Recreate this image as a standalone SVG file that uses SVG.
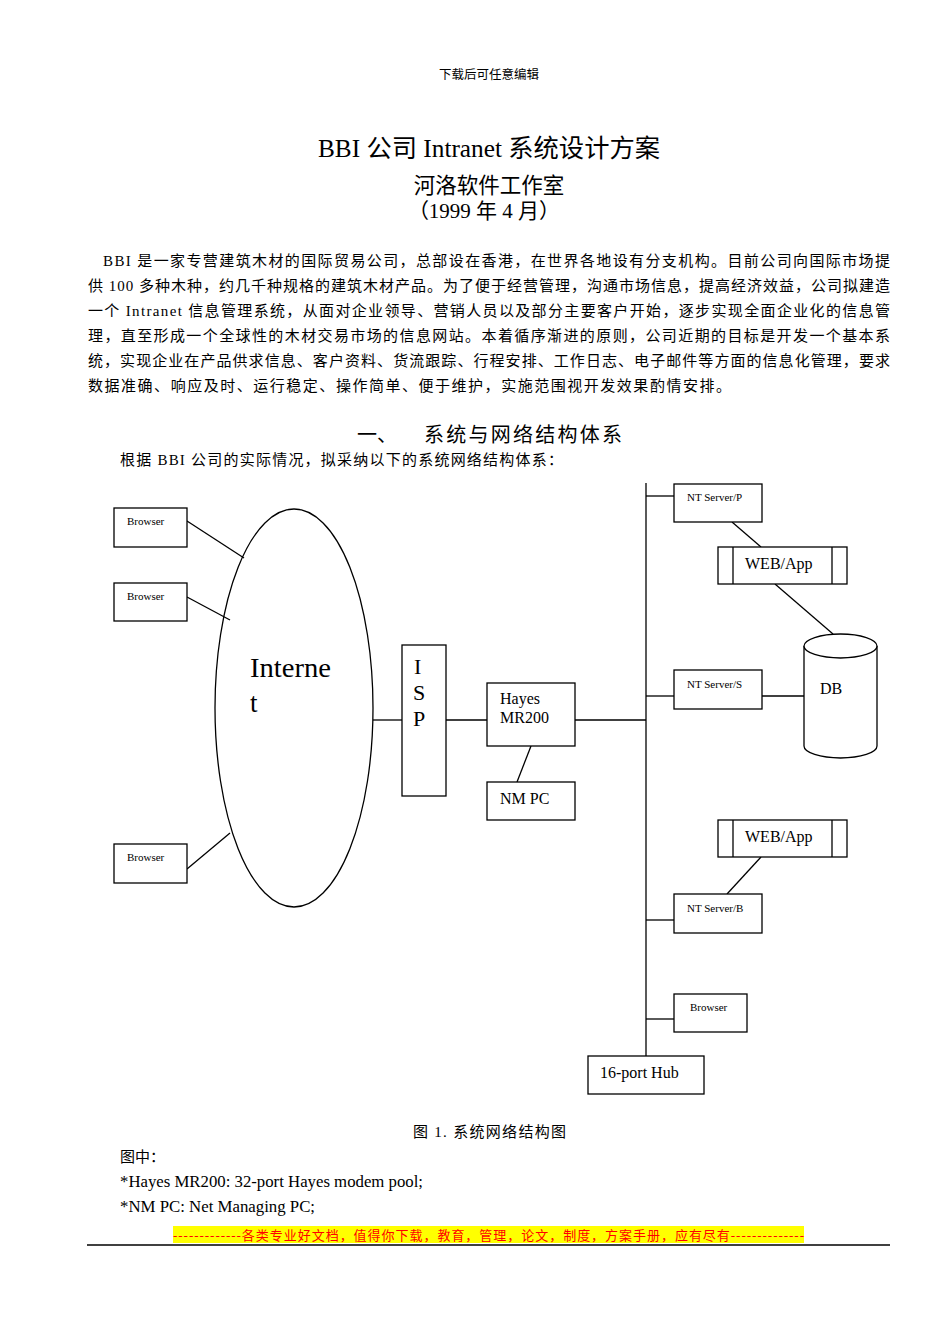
<svg xmlns="http://www.w3.org/2000/svg" width="950" height="1344" viewBox="0 0 950 1344">
<style>
text{font-family:"Liberation Serif","Noto Sans CJK SC",serif;fill:#000}
.box{fill:#fff;stroke:#000;stroke-width:1.3}
.ln{stroke:#000;stroke-width:1.3;fill:none}
.s{font-size:11px}
.m{font-size:16px}
.p{font-size:15px}
</style>
<rect width="950" height="1344" fill="#fff"/>
<text x="489" y="79" font-size="12.5" text-anchor="middle">下载后可任意编辑</text>
<text x="318" y="157" font-size="25" textLength="342" lengthAdjust="spacingAndGlyphs">BBI 公司 Intranet 系统设计方案</text>
<text x="489" y="193" font-size="21.5" text-anchor="middle">河洛软件工作室</text>
<text x="484" y="218" font-size="21" text-anchor="middle">（1999 年 4 月）</text>
<g class="p">
<text x="103" y="266" textLength="787" lengthAdjust="spacing">BBI 是一家专营建筑木材的国际贸易公司，总部设在香港，在世界各地设有分支机构。目前公司向国际市场提</text>
<text x="88" y="291" textLength="802" lengthAdjust="spacing">供 100 多种木种，约几千种规格的建筑木材产品。为了便于经营管理，沟通市场信息，提高经济效益，公司拟建造</text>
<text x="88" y="316" textLength="802" lengthAdjust="spacing">一个 Intranet 信息管理系统，从面对企业领导、营销人员以及部分主要客户开始，逐步实现全面企业化的信息管</text>
<text x="88" y="341" textLength="802" lengthAdjust="spacing">理，直至形成一个全球性的木材交易市场的信息网站。本着循序渐进的原则，公司近期的目标是开发一个基本系</text>
<text x="88" y="366" textLength="802" lengthAdjust="spacing">统，实现企业在产品供求信息、客户资料、货流跟踪、行程安排、工作日志、电子邮件等方面的信息化管理，要求</text>
<text x="88" y="391" textLength="643" lengthAdjust="spacing">数据准确、响应及时、运行稳定、操作简单、便于维护，实施范围视开发效果酌情安排。</text>
</g>
<text x="357" y="442" font-size="20">一、</text>
<text x="424" y="442" font-size="20" textLength="198" lengthAdjust="spacing">系统与网络结构体系</text>
<text x="120" y="465" class="p" textLength="443" lengthAdjust="spacing">根据 BBI 公司的实际情况，拟采纳以下的系统网络结构体系：</text>

<g id="connectors">
<line class="ln" x1="187" y1="521" x2="244" y2="558"/>
<line class="ln" x1="187" y1="597" x2="230" y2="620"/>
<line class="ln" x1="187" y1="869" x2="230" y2="833"/>
<line class="ln" x1="373" y1="720" x2="402" y2="720"/>
<line class="ln" x1="446" y1="720" x2="487" y2="720"/>
<line class="ln" x1="531" y1="746" x2="517" y2="782"/>
<line class="ln" x1="575" y1="720" x2="646" y2="720"/>
<line class="ln" x1="646" y1="483" x2="646" y2="1056"/>
<line class="ln" x1="646" y1="496" x2="674" y2="496"/>
<line class="ln" x1="732" y1="522" x2="761" y2="547"/>
<line class="ln" x1="775" y1="584" x2="833" y2="634"/>
<line class="ln" x1="646" y1="696" x2="674" y2="696"/>
<line class="ln" x1="762" y1="696" x2="804" y2="696"/>
<line class="ln" x1="646" y1="920" x2="674" y2="920"/>
<line class="ln" x1="727" y1="894" x2="761" y2="857"/>
<line class="ln" x1="646" y1="1019" x2="674" y2="1019"/>
</g>

<g id="browser1"><rect class="box" x="114" y="508" width="73" height="39"/><text class="s" x="127" y="525">Browser</text></g>
<g id="browser2"><rect class="box" x="114" y="583" width="73" height="38"/><text class="s" x="127" y="600">Browser</text></g>
<g id="browser3"><rect class="box" x="114" y="844" width="73" height="39"/><text class="s" x="127" y="861">Browser</text></g>
<g id="internet"><ellipse class="ln" cx="294" cy="708" rx="79" ry="199"/><text x="250" y="677" font-size="27" textLength="81" lengthAdjust="spacingAndGlyphs">Interne</text><text x="250" y="712" font-size="27">t</text></g>
<g id="isp"><rect class="box" x="402" y="645" width="44" height="151"/><text x="414" y="674" font-size="22">I</text><text x="413" y="700" font-size="22">S</text><text x="413" y="726" font-size="22">P</text></g>
<g id="hayes"><rect class="box" x="487" y="683" width="88" height="63"/><text class="m" x="500" y="704">Hayes</text><text class="m" x="500" y="723">MR200</text></g>
<g id="nmpc"><rect class="box" x="487" y="782" width="88" height="38"/><text class="m" x="500" y="804">NM PC</text></g>
<g id="ntp"><rect class="box" x="674" y="484" width="88" height="38"/><text class="s" x="687" y="501">NT Server/P</text></g>
<g id="webapp1"><rect class="box" x="718" y="547" width="129" height="37"/><line class="ln" x1="733" y1="547" x2="733" y2="584"/><line class="ln" x1="832" y1="547" x2="832" y2="584"/><text class="m" x="745" y="569">WEB/App</text></g>
<g id="db"><path class="box" d="M804 646 V746 A36.5 12 0 0 0 877 746 V646"/><ellipse class="box" cx="840.5" cy="646" rx="36.5" ry="12"/><text class="m" x="820" y="694">DB</text></g>
<g id="nts"><rect class="box" x="674" y="670" width="88" height="39"/><text class="s" x="687" y="688">NT Server/S</text></g>
<g id="webapp2"><rect class="box" x="718" y="820" width="129" height="37"/><line class="ln" x1="733" y1="820" x2="733" y2="857"/><line class="ln" x1="832" y1="820" x2="832" y2="857"/><text class="m" x="745" y="842">WEB/App</text></g>
<g id="ntb"><rect class="box" x="674" y="894" width="88" height="39"/><text class="s" x="687" y="912">NT Server/B</text></g>
<g id="browser4"><rect class="box" x="674" y="994" width="73" height="38"/><text class="s" x="690" y="1011">Browser</text></g>
<g id="hub"><rect class="box" x="588" y="1056" width="116" height="38"/><text class="m" x="600" y="1078">16-port Hub</text></g>

<text x="413" y="1137" class="p" textLength="153" lengthAdjust="spacing">图 1. 系统网络结构图</text>
<text x="120" y="1162" class="p">图中：</text>
<text x="120" y="1187" font-size="16" textLength="303" lengthAdjust="spacingAndGlyphs">*Hayes MR200: 32-port Hayes modem pool;</text>
<text x="120" y="1212" font-size="16" textLength="195" lengthAdjust="spacingAndGlyphs">*NM PC: Net Managing PC;</text>
<rect x="173" y="1226" width="631" height="17" fill="#ffff00"/>
<text x="173" y="1240" font-size="13" style="fill:#ff0000" textLength="631" lengthAdjust="spacing">-------------各类专业好文档，值得你下载，教育，管理，论文，制度，方案手册，应有尽有--------------</text>
<line x1="87" y1="1245" x2="890" y2="1245" stroke="#000" stroke-width="1.5"/>
</svg>
